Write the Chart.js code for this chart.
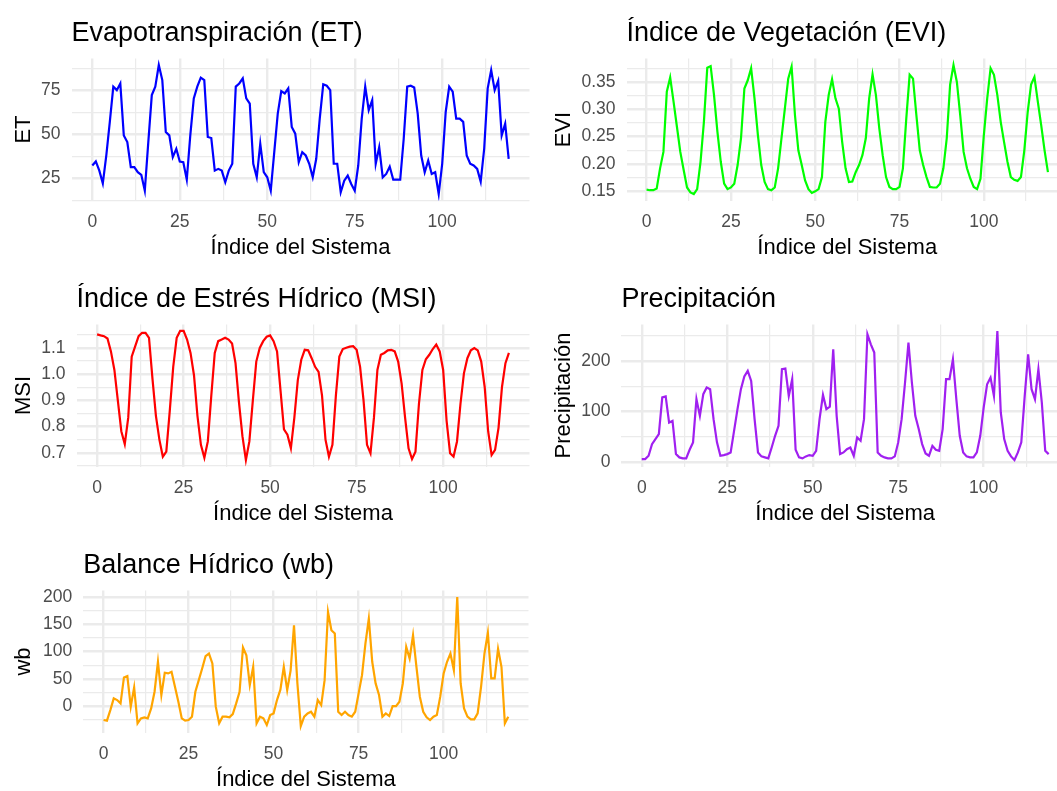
<!DOCTYPE html>
<html>
<head>
<meta charset="utf-8">
<script src="https://cdn.jsdelivr.net/npm/chart.js@4.4.1/dist/chart.umd.min.js"></script>
<style>
    html, body { margin: 0; padding: 0; background: #ffffff; overflow: hidden; width: 1057px; height: 791px; }
    canvas { position: absolute; }
</style>
</head>
<body>
<canvas id="etChart" width="540" height="266" style="left:0px;top:0px"></canvas>
<canvas id="eviChart" width="540" height="266" style="left:540px;top:0px"></canvas>
<canvas id="msiChart" width="540" height="266" style="left:0px;top:266px"></canvas>
<canvas id="precipChart" width="540" height="266" style="left:540px;top:266px"></canvas>
<canvas id="wbChart" width="540" height="266" style="left:0px;top:532px"></canvas>
<script>
// Series, one value per system index (0..119)
var etValues = [
    32.2, 34.5, 29.3, 22.1, 37.9, 57.0, 77.0, 75.0, 78.8, 49.3,
    45.5, 31.3, 31.3, 28.4, 26.9, 17.9, 45.5, 72.2, 77.0, 89.3,
    80.7, 51.2, 49.3, 37.0, 41.7, 34.5, 34.1, 24.2, 49.3, 70.3,
    77.0, 82.1, 80.7, 48.4, 47.8, 29.3, 30.3, 29.3, 22.7, 29.3,
    33.2, 77.0, 78.8, 81.7, 70.3, 67.4, 33.2, 25.5, 44.6, 28.4,
    25.5, 17.9, 39.8, 61.7, 74.4, 73.1, 76.0, 54.1, 50.3, 34.1,
    39.8, 37.9, 33.2, 25.5, 36.0, 58.8, 78.3, 77.5, 75.0, 33.2,
    33.2, 17.0, 23.6, 26.5, 21.7, 17.9, 32.2, 58.8, 77.0, 63.6,
    69.3, 33.2, 42.7, 25.5, 27.4, 31.6, 24.2, 24.2, 24.2, 47.4,
    77.0, 77.5, 76.5, 61.7, 37.9, 28.4, 35.0, 27.4, 28.4, 16.0,
    33.2, 62.6, 77.0, 74.1, 58.8, 58.8, 57.0, 37.9, 33.2, 32.2,
    30.3, 23.1, 41.7, 76.0, 86.4, 75.0, 80.2, 49.3, 56.0, 36.0
];

var eviValues = [
    0.153, 0.152, 0.152, 0.155, 0.192, 0.222, 0.332, 0.358, 0.314, 0.268,
    0.222, 0.189, 0.157, 0.148, 0.145, 0.154, 0.204, 0.277, 0.376, 0.379,
    0.326, 0.259, 0.204, 0.164, 0.154, 0.157, 0.164, 0.198, 0.247, 0.338,
    0.353, 0.375, 0.320, 0.253, 0.198, 0.167, 0.154, 0.152, 0.157, 0.192,
    0.247, 0.301, 0.356, 0.378, 0.289, 0.225, 0.198, 0.170, 0.154, 0.147,
    0.150, 0.154, 0.176, 0.277, 0.326, 0.355, 0.320, 0.301, 0.240, 0.192,
    0.167, 0.168, 0.185, 0.198, 0.216, 0.247, 0.320, 0.364, 0.326, 0.265,
    0.216, 0.176, 0.158, 0.154, 0.154, 0.158, 0.192, 0.283, 0.363, 0.356,
    0.289, 0.225, 0.198, 0.176, 0.158, 0.157, 0.157, 0.164, 0.192, 0.247,
    0.345, 0.381, 0.350, 0.289, 0.222, 0.192, 0.173, 0.158, 0.154, 0.173,
    0.253, 0.320, 0.375, 0.363, 0.326, 0.277, 0.240, 0.204, 0.176, 0.171,
    0.169, 0.176, 0.225, 0.295, 0.345, 0.359, 0.314, 0.271, 0.225, 0.185
];

var msiValues = [
    1.152, 1.148, 1.145, 1.136, 1.087, 1.016, 0.899, 0.782, 0.733, 0.834,
    1.067, 1.106, 1.145, 1.158, 1.158, 1.139, 0.983, 0.841, 0.750, 0.685,
    0.704, 0.860, 1.028, 1.139, 1.165, 1.165, 1.132, 1.081, 0.996, 0.841,
    0.730, 0.681, 0.743, 0.918, 1.081, 1.126, 1.132, 1.139, 1.132, 1.117,
    1.042, 0.892, 0.763, 0.672, 0.743, 0.899, 1.048, 1.100, 1.126, 1.143,
    1.148, 1.126, 1.087, 0.938, 0.789, 0.769, 0.717, 0.834, 0.977, 1.055,
    1.093, 1.091, 1.061, 1.028, 1.009, 0.918, 0.750, 0.685, 0.730, 0.918,
    1.067, 1.096, 1.101, 1.105, 1.107, 1.093, 1.028, 0.899, 0.730, 0.698,
    0.834, 1.016, 1.074, 1.081, 1.091, 1.093, 1.087, 1.048, 0.964, 0.834,
    0.717, 0.676, 0.704, 0.886, 1.016, 1.057, 1.074, 1.096, 1.113, 1.087,
    1.016, 0.821, 0.698, 0.685, 0.743, 0.886, 1.003, 1.061, 1.091, 1.100,
    1.091, 1.048, 0.951, 0.782, 0.691, 0.711, 0.795, 0.951, 1.042, 1.081
];

var precipValues = [
    6.5, 6.5, 13.0, 36.0, 45.9, 55.7, 128.0, 130.0, 78.4, 81.6,
    16.3, 9.8, 7.9, 7.9, 24.8, 39.4, 124.6, 91.7, 134.4, 147.6,
    144.3, 85.2, 39.4, 13.0, 14.4, 16.3, 19.6, 62.2, 104.9, 144.3,
    169.3, 180.3, 160.6, 85.2, 19.6, 11.8, 9.8, 7.9, 29.3, 52.4,
    72.0, 183.7, 185.0, 131.0, 164.0, 24.8, 9.8, 7.9, 11.8, 14.4,
    13.0, 22.9, 85.2, 133.0, 105.0, 110.0, 223.0, 91.7, 16.3, 19.6,
    26.1, 29.3, 13.0, 49.1, 42.6, 85.2, 252.6, 232.7, 216.5, 19.6,
    13.0, 9.8, 7.9, 7.9, 11.8, 39.4, 85.2, 157.4, 236.0, 157.4,
    91.7, 65.6, 36.0, 17.6, 13.0, 32.6, 24.8, 22.9, 65.6, 164.0,
    164.0, 203.0, 124.6, 52.4, 19.6, 11.8, 9.8, 9.8, 19.6, 52.4,
    108.3, 154.0, 167.0, 131.0, 259.0, 98.4, 45.9, 22.9, 11.8, 4.6,
    19.6, 39.4, 131.0, 213.0, 144.3, 124.6, 183.7, 118.0, 22.9, 16.3
];

var wbValues = [
    -25.6, -26.8, -7.3, 14.1, 11.0, 4.9, 52.5, 54.9, -1.1, 34.2,
    -31.6, -22.5, -20.7, -22.5, -4.2, 26.3, 81.2, 20.2, 61.0, 59.8,
    62.9, 35.4, 8.0, -22.5, -26.8, -25.6, -19.4, 26.3, 47.5, 68.9,
    91.4, 96.3, 78.0, -1.1, -31.6, -19.4, -19.4, -20.7, -14.6, 4.9,
    26.3, 107.3, 93.2, 38.4, 72.0, -31.6, -19.4, -22.5, -34.7, -16.4,
    -13.4, 11.0, 30.0, 72.0, 29.3, 65.0, 148.0, 41.5, -36.6, -19.4,
    -13.4, -10.4, -19.4, 11.0, 1.9, 47.5, 172.6, 139.0, 132.9, -10.4,
    -16.4, -10.4, -16.4, -19.4, -10.4, 23.2, 56.7, 114.6, 160.3, 81.2,
    41.5, 20.2, -19.4, -13.4, -18.2, 0.1, 0.0, 8.0, 41.5, 108.6,
    87.2, 129.8, 72.0, 17.2, -10.4, -20.7, -25.6, -19.4, -16.4, 17.2,
    59.8, 81.2, 96.3, 65.8, 200.0, 41.5, -4.2, -19.4, -24.2, -24.2,
    -13.4, 35.4, 96.3, 134.3, 50.6, 50.6, 105.0, 72.0, -31.6, -19.4
];

// Position of each value along the x axis (Índice del Sistema)
var systemIndex = etValues.map(function (_, i) { return i; });

var xAxisTitle = "Índice del Sistema";

Chart.defaults.font.family = "'Liberation Sans', Arial, sans-serif";

// True when a tick sits on a major grid step (the others are minor lines)
function isMajor(value, step) {
    return Math.abs(value / step - Math.round(value / step)) < 1e-6;
}

// Draw one ggplot-like panel (theme_minimal look) into the given canvas
function drawPanel(canvasId, cfg) {
    var n = cfg.values.length;
    var xPad = (n - 1) * 0.05;  // ggplot default 5% expansion
    var vMin = Math.min.apply(null, cfg.values);
    var vMax = Math.max.apply(null, cfg.values);
    var yPad = (vMax - vMin) * 0.05;

    var ctx = document.getElementById(canvasId).getContext("2d");

    return new Chart(ctx, {
        type: "line",
        data: {
            labels: systemIndex,
            datasets: [{
                data: cfg.values,
                borderColor: cfg.color,
                borderWidth: 2.2,
                pointRadius: 0,
                tension: 0,
                fill: false
            }]
        },
        options: {
            responsive: false,
            animation: false,
            layout: {
                padding: { left: 0, right: cfg.padRight, top: 0, bottom: 0 }
            },
            plugins: {
                legend: { display: false },
                tooltip: { enabled: false },
                title: {
                    display: true,
                    text: cfg.title,
                    align: "start",
                    fullSize: false,  // keep the title aligned with the panel, not the canvas
                    color: "#000000",
                    font: { size: 27, weight: "normal" },
                    padding: { top: 17, bottom: 9.1 }
                }
            },
            scales: {
                x: {
                    type: "linear",
                    min: -xPad,
                    max: n - 1 + xPad,
                    border: { display: false },
                    grid: {
                        color: "#EBEBEB",
                        drawTicks: false,
                        lineWidth: function (c) {
                            return c.tick && isMajor(c.tick.value, 25) ? 2.4 : 1.2;
                        }
                    },
                    ticks: {
                        stepSize: 12.5,
                        includeBounds: false,
                        autoSkip: false,
                        maxRotation: 0,
                        padding: 11,
                        color: "#4D4D4D",
                        font: { size: 17.5 },
                        callback: function (v) { return isMajor(v, 25) ? String(v) : ""; }
                    },
                    title: {
                        display: true,
                        text: xAxisTitle,
                        color: "#000000",
                        font: { size: 22 },
                        padding: { top: 0, bottom: 4.8 }
                    },
                    afterFit: function (scale) { scale.height = 65.5; }
                },
                y: {
                    type: "linear",
                    min: vMin - yPad,
                    max: vMax + yPad,
                    border: { display: false },
                    grid: {
                        color: "#EBEBEB",
                        drawTicks: false,
                        lineWidth: function (c) {
                            return c.tick && isMajor(c.tick.value, cfg.yMajor) ? 2.4 : 1.2;
                        }
                    },
                    ticks: {
                        stepSize: cfg.yMajor / 2,
                        includeBounds: false,
                        autoSkip: false,
                        padding: 11,
                        color: "#4D4D4D",
                        font: { size: 17.5 },
                        callback: function (v) {
                            return isMajor(v, cfg.yMajor) ? v.toFixed(cfg.decimals) : "";
                        }
                    },
                    title: {
                        display: true,
                        text: cfg.yTitle,
                        color: "#000000",
                        font: { size: 22 },
                        padding: { top: 10.5, bottom: 0 }
                    },
                    afterFit: function (scale) { scale.width = cfg.axisWidth; }
                }
            }
        }
    });
}

var etChart = drawPanel("etChart", {
    title: "Evapotranspiración (ET)", yTitle: "ET", values: etValues,
    color: "#0000FF", yMajor: 25, decimals: 0, axisWidth: 71.5, padRight: 10.5
});

var eviChart = drawPanel("eviChart", {
    title: "Índice de Vegetación (EVI)", yTitle: "EVI", values: eviValues,
    color: "#00FF00", yMajor: 0.05, decimals: 2, axisWidth: 86.5, padRight: 12
});

var msiChart = drawPanel("msiChart", {
    title: "Índice de Estrés Hídrico (MSI)", yTitle: "MSI", values: msiValues,
    color: "#FF0000", yMajor: 0.1, decimals: 1, axisWidth: 76.5, padRight: 10.5
});

var precipChart = drawPanel("precipChart", {
    title: "Precipitación", yTitle: "Precipitación", values: precipValues,
    color: "#A020F0", yMajor: 100, decimals: 0, axisWidth: 81.4, padRight: 11
});

var wbChart = drawPanel("wbChart", {
    title: "Balance Hídrico (wb)", yTitle: "wb", values: wbValues,
    color: "#FFA500", yMajor: 50, decimals: 0, axisWidth: 83.3, padRight: 11.5
});
</script>
</body>
</html>
